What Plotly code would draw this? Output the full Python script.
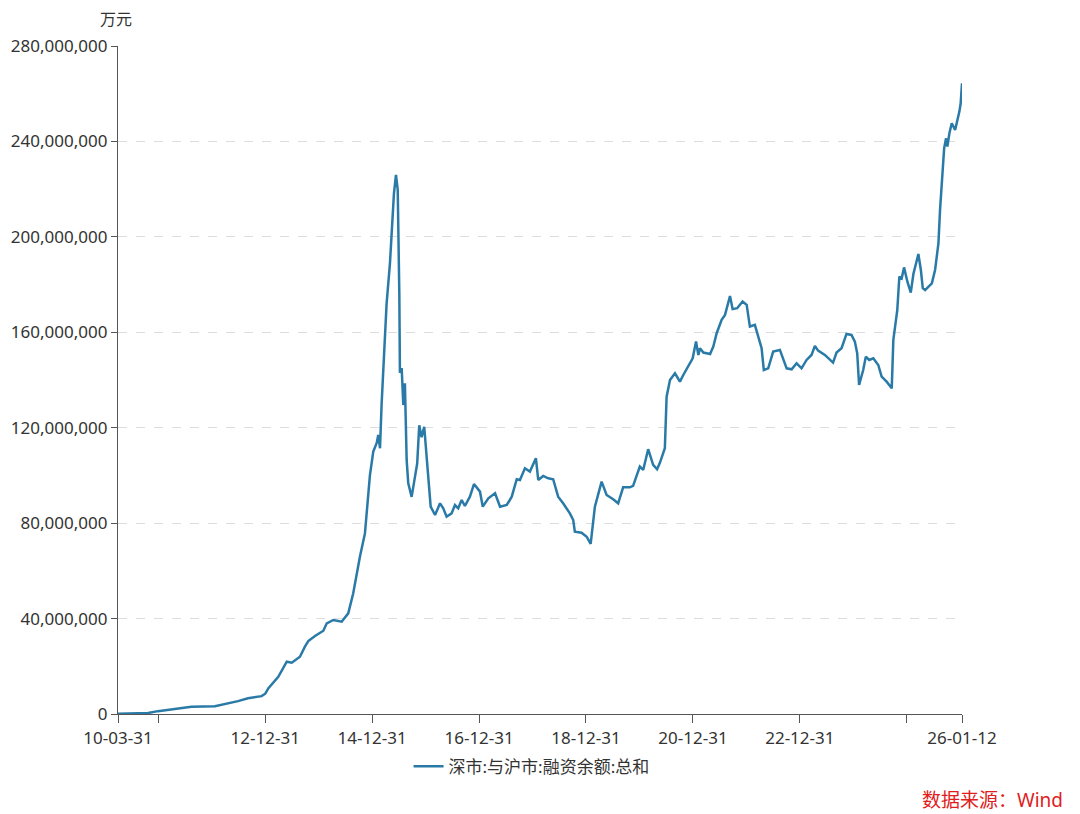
import plotly.graph_objects as go

# 融资余额（万元），单位：百万万元
dates = [
    "2010-03-31", "2010-10-22", "2010-12-29", "2011-04-10", "2011-08-15", "2012-01-22",
    "2012-04-01", "2012-06-28", "2012-09-04", "2012-12-06", "2012-12-31", "2013-01-22",
    "2013-03-30", "2013-05-27", "2013-06-30", "2013-08-25", "2013-09-28", "2013-10-21",
    "2013-12-06", "2014-02-01", "2014-02-24", "2014-04-10", "2014-06-06", "2014-07-21",
    "2014-08-24", "2014-09-16", "2014-10-09", "2014-11-12", "2014-12-04", "2014-12-16",
    "2015-01-08", "2015-01-31", "2015-02-11", "2015-02-23", "2015-03-06", "2015-03-28",
    "2015-04-09", "2015-05-02", "2015-05-14", "2015-05-29", "2015-06-12", "2015-06-24",
    "2015-07-05", "2015-07-09", "2015-07-21", "2015-08-01", "2015-08-12", "2015-08-24",
    "2015-09-04", "2015-09-27", "2015-10-20", "2015-11-04", "2015-11-18", "2015-12-04",
    "2015-12-22", "2016-01-18", "2016-02-04", "2016-03-05", "2016-04-08", "2016-04-30",
    "2016-05-23", "2016-06-26", "2016-07-19", "2016-08-10", "2016-09-03", "2016-09-25",
    "2016-10-29", "2016-11-26", "2017-01-06", "2017-01-25", "2017-03-04", "2017-04-19",
    "2017-05-23", "2017-07-08", "2017-08-11", "2017-09-14", "2017-10-06", "2017-11-09",
    "2017-12-13", "2018-01-23", "2018-02-08", "2018-03-14", "2018-04-17", "2018-05-21",
    "2018-06-24", "2018-07-28", "2018-09-12", "2018-10-05", "2018-10-16", "2018-12-01",
    "2019-01-05", "2019-02-01", "2019-03-02", "2019-04-17", "2019-05-21", "2019-07-05",
    "2019-08-08", "2019-09-11", "2019-10-27", "2019-11-18", "2020-01-03", "2020-01-26",
    "2020-02-29", "2020-04-03", "2020-04-30", "2020-05-19", "2020-06-22", "2020-07-04",
    "2020-07-27", "2020-08-30", "2020-10-03", "2020-10-26", "2020-11-29", "2020-12-29",
    "2021-01-21", "2021-02-06", "2021-02-17", "2021-03-12", "2021-04-27", "2021-05-19",
    "2021-06-11", "2021-07-15", "2021-08-07", "2021-09-10", "2021-09-28", "2021-10-29",
    "2021-12-05", "2022-01-02", "2022-01-24", "2022-02-27", "2022-03-22", "2022-04-14",
    "2022-04-29", "2022-05-29", "2022-07-02", "2022-08-17", "2022-10-02", "2022-11-05",
    "2022-12-09", "2023-01-12", "2023-02-15", "2023-03-21", "2023-04-13", "2023-05-05",
    "2023-06-20", "2023-07-24", "2023-08-15", "2023-09-08", "2023-10-12", "2023-11-15",
    "2023-12-19", "2024-01-11", "2024-01-27", "2024-02-09", "2024-03-08", "2024-03-26",
    "2024-04-18", "2024-05-16", "2024-06-19", "2024-07-12", "2024-08-15", "2024-09-19",
    "2024-09-30", "2024-10-27", "2024-11-10", "2024-11-26", "2024-12-12", "2025-01-04",
    "2025-01-27", "2025-02-14", "2025-03-04", "2025-03-20", "2025-04-06", "2025-04-19",
    "2025-05-05", "2025-05-28", "2025-06-20", "2025-07-12", "2025-08-04", "2025-08-15",
    "2025-08-31", "2025-09-12", "2025-09-25", "2025-10-04", "2025-10-18", "2025-11-03",
    "2025-11-26", "2025-12-11", "2025-12-25", "2026-01-03", "2026-01-12",
]
balance_mn = [
    0.07, 0.4, 1.2, 2.0, 3.0, 3.3,
    4.2, 5.4, 6.6, 7.5, 8.5, 10.8,
    15.6, 21.9, 21.5, 24.0, 28.2, 30.6,
    32.7, 34.9, 38.0, 39.4, 38.7, 42.2,
    50.6, 59.0, 66.0, 75.7, 92.5, 100.0,
    110.0, 113.5, 117.0, 111.4, 130.0, 155.0,
    172.0, 189.0, 202.0, 218.0, 226.0, 219.7,
    176.0, 143.0, 145.0, 129.5, 138.6, 106.5,
    96.7, 91.0, 99.5, 105.0, 121.0, 116.0,
    120.4, 99.5, 86.9, 83.4, 88.3, 86.2,
    82.7, 84.1, 87.6, 86.2, 89.7, 87.2,
    91.1, 96.4, 93.2, 86.9, 90.4, 92.5,
    86.9, 87.6, 91.1, 98.4, 98.1, 103.0,
    101.6, 107.2, 98.1, 99.8, 98.8, 98.4,
    91.1, 88.3, 84.1, 81.3, 76.4, 76.0,
    74.3, 71.3, 86.9, 97.4, 91.8, 90.0,
    88.3, 95.0, 95.0, 95.6, 103.7, 102.3,
    111.0, 104.4, 102.6, 105.3, 111.4, 133.0,
    140.0, 142.8, 139.3, 142.1, 145.6, 149.1,
    156.1, 150.5, 153.3, 151.5, 150.9, 154.0,
    159.6, 165.2, 167.3, 175.2, 169.7, 170.1,
    172.9, 171.5, 162.4, 163.1, 158.2, 153.3,
    144.2, 144.9, 151.9, 152.6, 144.9, 144.5,
    147.0, 144.9, 148.4, 150.5, 154.3, 152.3,
    150.5, 148.7, 147.3, 151.5, 153.3, 159.3,
    158.9, 156.1, 151.2, 137.9, 144.2, 149.8,
    148.4, 149.1, 146.3, 141.4, 139.3, 136.5,
    156.8, 169.4, 183.3, 182.6, 187.2, 181.2,
    176.6, 184.4, 189.6, 192.8, 186.1, 178.5,
    177.7, 179.1, 180.5, 186.1, 197.3, 211.3,
    226.7, 237.1, 241.3, 237.8, 243.4, 247.6,
    244.8, 248.3, 252.5, 256.0, 264.4,
]
balance = [v * 1e6 for v in balance_mn]

x_tickvals = ["2010-03-31", "2010-12-31", "2012-12-31", "2014-12-31", "2016-12-31",
              "2018-12-31", "2020-12-31", "2022-12-31", "2024-12-31", "2026-01-12"]
x_ticktext = ["10-03-31", "", "12-12-31", "14-12-31", "16-12-31",
              "18-12-31", "20-12-31", "22-12-31", "", "26-01-12"]
y_tickvals = [0, 40e6, 80e6, 120e6, 160e6, 200e6, 240e6, 280e6]

FONT = "Noto Sans, Noto Sans CJK SC, sans-serif"
LINE = "#2a7aa8"

fig = go.Figure()
fig.add_trace(go.Scatter(
    x=dates, y=balance, mode="lines",
    name="深市:与沪市:融资余额:总和",
    line=dict(color=LINE, width=2.5),
))

fig.update_layout(
    width=1072, height=806,
    paper_bgcolor="white", plot_bgcolor="white",
    margin=dict(l=110, r=118, t=38, b=100),
    font=dict(family=FONT, size=17, color="#333333"),
    showlegend=True,
    legend=dict(orientation="h", x=0.49, xanchor="center", y=-0.079, yanchor="middle",
                font=dict(size=17, color="#333333")),
    xaxis=dict(
        type="date", range=["2010-03-31", "2026-01-12"],
        tickvals=x_tickvals, ticktext=x_ticktext,
        showgrid=False, zeroline=False, automargin=False,
        showline=True, linecolor="#555555", linewidth=1.2,
        ticks="outside", ticklen=8, tickcolor="#555555",
        tickfont=dict(size=17, color="#333333"),
    ),
    yaxis=dict(
        range=[0, 280e6], tickvals=y_tickvals, tickformat=",d",
        showgrid=True, gridcolor="#dddddd", griddash="dash", gridwidth=1,
        zeroline=False, automargin=False,
        showline=True, linecolor="#555555", linewidth=1.2,
        ticks="outside", ticklen=6, tickcolor="#555555",
        tickfont=dict(size=17, color="#333333"),
    ),
    annotations=[
        dict(text="万元", xref="paper", yref="paper", x=-0.024, y=1.04,
             xanchor="left", yanchor="middle", showarrow=False,
             font=dict(size=16, color="#333333")),
        dict(text="数据来源：Wind", xref="paper", yref="paper", x=1.122, y=-0.129,
             xanchor="right", yanchor="middle", showarrow=False,
             font=dict(size=19, color="#e02020")),
    ],
)

fig.write_html("out.html")
